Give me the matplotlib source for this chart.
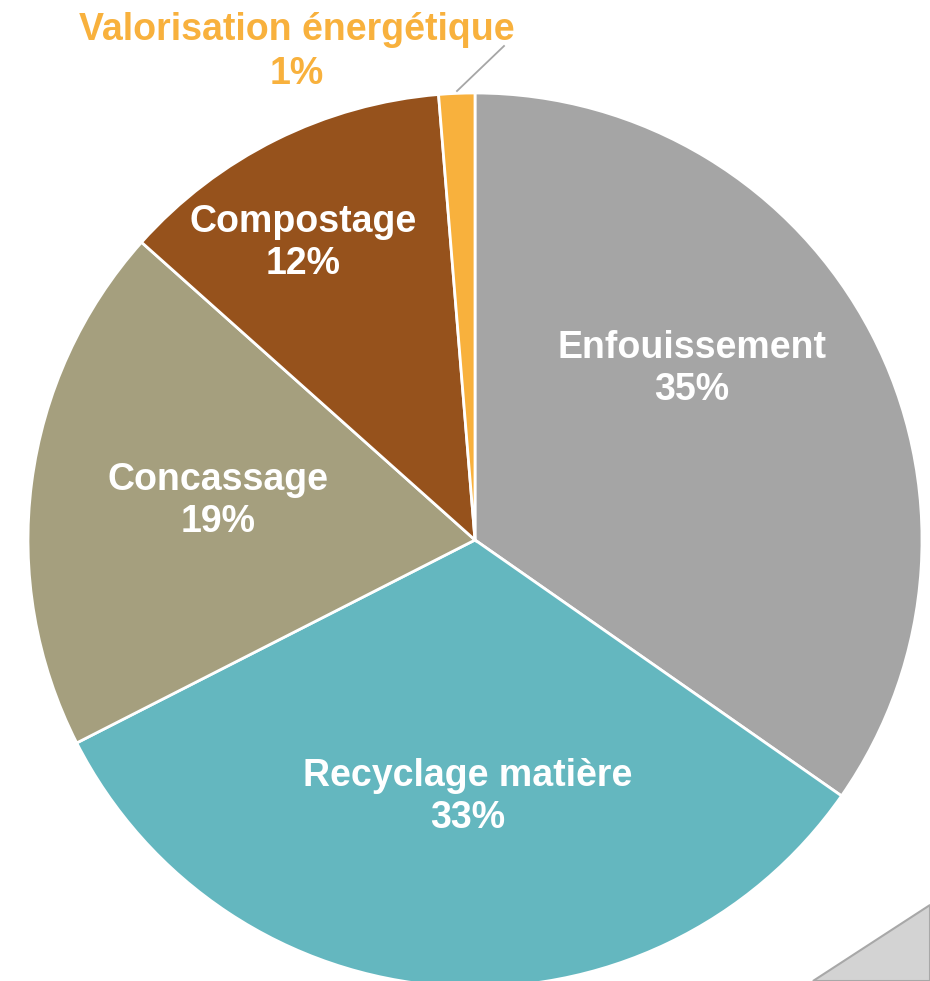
import matplotlib.pyplot as plt
from matplotlib.patches import Polygon

# Données (parts en %)
categories = ['Enfouissement', 'Recyclage matière', 'Concassage', 'Compostage',
              'Valorisation énergétique']
shares = [34.7, 32.8, 19.1, 12.1, 1.3]
pct_labels = ['35%', '33%', '19%', '12%', '1%']
colors = ['#A5A5A5', '#64B7BF', '#A59F7E', '#96521C', '#F8B13D']

W, H = 930, 981
fig = plt.figure(figsize=(W / 100, H / 100), dpi=100)
ax = fig.add_axes([0, 0, 1, 1])

# ombre grise en bas à droite
ax.add_patch(Polygon([(813, 0), (930, 76), (930, 0)], closed=True,
                     facecolor='#D3D3D3', edgecolor='#A8A8A8', lw=1.5, zorder=0))

cx, cy, r = 475, H - 540, 447
ax.pie(shares, colors=colors, startangle=90, counterclock=False,
       center=(cx, cy), radius=r, frame=True,
       wedgeprops=dict(edgecolor='white', linewidth=2.0))

# étiquettes (positions en pixels, y vers le bas)
label_pos = [(692, 369), (468, 797), (218, 501), (303, 243), (297, 52)]
font = dict(family='Liberation Sans', weight='bold', size=27)
for i, (x, y) in enumerate(label_pos):
    col = colors[i] if i == 4 else 'white'
    ax.text(x, H - y, categories[i] + '\n' + pct_labels[i], ha='center', va='center',
            color=col, linespacing=1.25, **font)

# ligne de rappel pour la petite part
ax.plot([457, 504], [H - 91, H - 46], color='#A6A6A6', lw=1.3)

ax.set_xlim(0, W)
ax.set_ylim(0, H)
ax.axis('off')
fig.savefig('out.png', dpi=100, facecolor='white')
